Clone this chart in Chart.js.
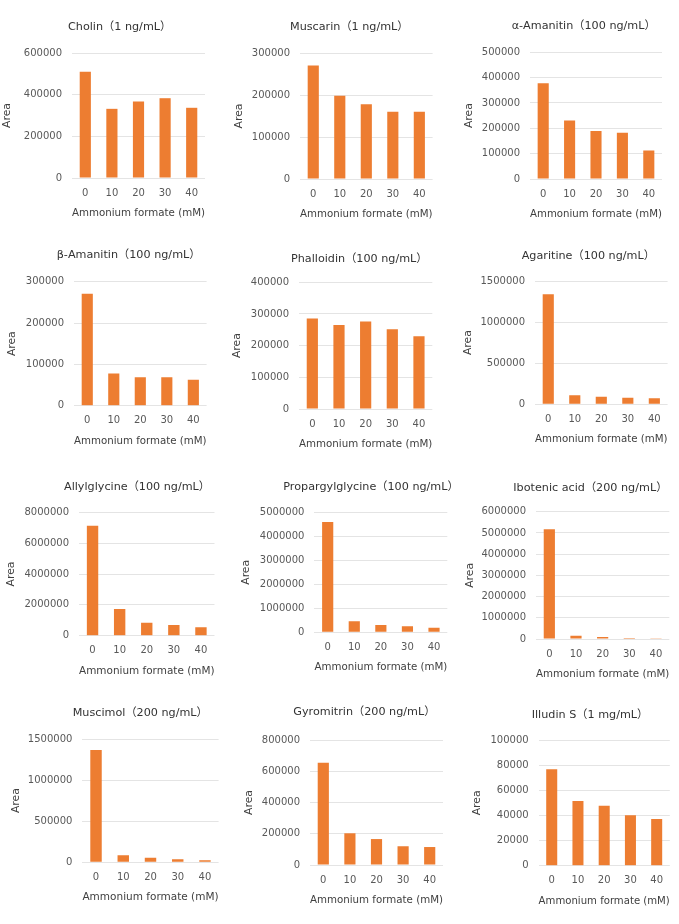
<!DOCTYPE html>
<html>
<head>
<meta charset="utf-8">
<script src="https://cdn.jsdelivr.net/npm/chart.js@4.4.1/dist/chart.umd.min.js"></script>
<style>
  html, body { margin: 0; padding: 0; background: #fff; }
  body { width: 679px; height: 924px; position: relative; overflow: hidden; }
  canvas { position: absolute; }
</style>
</head>
<body>
<script>
// ammonium formate in the mobile phase (mM)
var doses = ['0', '10', '20', '30', '40'];

// peak areas
var cholin = [510000, 332000, 367000, 383000, 337000];
var muscarin = [270000, 198000, 178000, 160000, 160000];
var alphaAmanitin = [378000, 231000, 189000, 183000, 112000];
var betaAmanitin = [271000, 78000, 69000, 69000, 63000];
var phalloidin = [286000, 265000, 276000, 252000, 230000];
var agaritine = [1338000, 110000, 93000, 80000, 74000];
var allylglycine = [7130000, 1730000, 845000, 695000, 545000];
var propargylglycine = [4600000, 458000, 305000, 250000, 192000];
var ibotenicAcid = [5170000, 150000, 90000, 45000, 38000];
var muscimol = [1366000, 85000, 56000, 36000, 24000];
var gyromitrin = [655000, 203000, 166000, 120000, 115000];
var illudinS = [76700, 51500, 47700, 40100, 37200];

var titles = [
    'Cholin（1 ng/mL）', 'Muscarin（1 ng/mL）', 'α-Amanitin（100 ng/mL）',
    'β-Amanitin（100 ng/mL）', 'Phalloidin（100 ng/mL）', 'Agaritine（100 ng/mL）',
    'Allylglycine（100 ng/mL）', 'Propargylglycine（100 ng/mL）', 'Ibotenic acid（200 ng/mL）',
    'Muscimol（200 ng/mL）', 'Gyromitrin（200 ng/mL）', 'Illudin S（1 mg/mL）'
];
var series = [cholin, muscarin, alphaAmanitin, betaAmanitin, phalloidin, agaritine,
    allylglycine, propargylglycine, ibotenicAcid, muscimol, gyromitrin, illudinS];

// y axis: top of scale and step between ticks
var yMax = [600000, 300000, 500000, 300000, 400000, 1500000, 8000000, 5000000, 6000000, 1500000, 800000, 100000];
var yStep = [200000, 100000, 100000, 100000, 100000, 500000, 2000000, 1000000, 1000000, 500000, 200000, 20000];

// page position of each panel: plot left/right/top/bottom, "Area" centre x, title left x / centre y
var layout = [
    {pl: 72, pr: 205, pt: 53, pb: 178, ax: 8, tx: 68, ty: 27},
    {pl: 300, pr: 432.6, pt: 53, pb: 179, ax: 240, tx: 290, ty: 26.7},
    {pl: 530, pr: 662, pt: 52.3, pb: 179, ax: 470, tx: 511.7, ty: 26},
    {pl: 74, pr: 206.6, pt: 281.7, pb: 405.7, ax: 12.7, tx: 56.7, ty: 255},
    {pl: 299, pr: 432.3, pt: 282.3, pb: 409, ax: 238.3, tx: 291, ty: 259},
    {pl: 535, pr: 667.6, pt: 281, pb: 404.3, ax: 469.3, tx: 521.7, ty: 256},
    {pl: 79, pr: 214.5, pt: 512.3, pb: 635.7, ax: 11.7, tx: 64, ty: 486.7},
    {pl: 314.4, pr: 447.3, pt: 512.3, pb: 632.3, ax: 246.7, tx: 283.3, ty: 487.3},
    {pl: 536, pr: 669.3, pt: 511.7, pb: 639, ax: 470.7, tx: 513.3, ty: 488.3},
    {pl: 82.4, pr: 218.6, pt: 739, pb: 862.3, ax: 16.7, tx: 72.7, ty: 712.7},
    {pl: 310, pr: 443, pt: 740, pb: 865, ax: 250, tx: 293.3, ty: 711.7},
    {pl: 538.6, pr: 669.8, pt: 740, pb: 865.7, ax: 478.3, tx: 531.7, ty: 715}
];

var FONT = '"DejaVu Sans", "Noto Sans CJK JP", sans-serif';
var BAR = '#ED7D31';

// title drawn at a fixed spot, Excel does not centre it on the plot
var panelTitle = {
    id: 'panelTitle',
    afterDraw: function(chart, args, opts) {
        var ctx = chart.ctx;
        ctx.save();
        ctx.font = '11.2px ' + FONT;
        ctx.fillStyle = '#333333';
        ctx.textAlign = 'left';
        ctx.textBaseline = 'middle';
        ctx.fillText(opts.text, opts.x, opts.y);
        ctx.restore();
    }
};

function makeChart(i) {
    var L = layout[i];
    var cx = Math.round(L.ax - 7);
    var cy = Math.round(L.ty - 14);
    var right = Math.min(679, Math.round(L.pr + 16));
    var bottom = Math.round(L.pb + 42);
    var cw = right - cx;
    var ch = bottom - cy;

    var cv = document.createElement('canvas');
    cv.width = cw;
    cv.height = ch;
    cv.style.left = cx + 'px';
    cv.style.top = cy + 'px';
    cv.style.width = cw + 'px';
    cv.style.height = ch + 'px';
    document.body.appendChild(cv);

    var yWidth = L.pl - cx;
    var xHeight = bottom - L.pb;

    return new Chart(cv.getContext('2d'), {
        type: 'bar',
        data: {
            labels: doses,
            datasets: [{
                data: series[i],
                backgroundColor: BAR,
                borderWidth: 0,
                barPercentage: 0.42,
                categoryPercentage: 1
            }]
        },
        plugins: [panelTitle],
        options: {
            responsive: false,
            animation: false,
            devicePixelRatio: 1,
            layout: {
                padding: {left: 0, right: cw - (L.pr - cx), top: L.pt - cy, bottom: 0}
            },
            plugins: {
                legend: {display: false},
                tooltip: {enabled: false},
                panelTitle: {text: titles[i], x: L.tx - cx, y: L.ty - cy}
            },
            scales: {
                x: {
                    grid: {display: false, drawTicks: false},
                    border: {display: false},
                    ticks: {
                        color: '#595959',
                        font: {family: FONT, size: 10},
                        padding: 9,
                        maxRotation: 0,
                        autoSkip: false
                    },
                    title: {
                        display: true,
                        text: 'Ammonium formate (mM)',
                        color: '#404040',
                        font: {family: FONT, size: 10.8},
                        padding: 0
                    },
                    afterFit: function(s) { s.height = xHeight; }
                },
                y: {
                    min: 0,
                    max: yMax[i],
                    grid: {color: '#E4E4E4', lineWidth: 1, drawTicks: false},
                    border: {display: false},
                    ticks: {
                        stepSize: yStep[i],
                        color: '#595959',
                        font: {family: FONT, size: 10},
                        padding: 10,
                        callback: function(v) { return String(v); }
                    },
                    title: {
                        display: true,
                        text: 'Area',
                        color: '#404040',
                        font: {family: FONT, size: 10.8},
                        padding: 0
                    },
                    afterFit: function(s) { s.width = yWidth; }
                }
            }
        }
    });
}

for (var i = 0; i < series.length; i++) {
    makeChart(i);
}
</script>
</body>
</html>
